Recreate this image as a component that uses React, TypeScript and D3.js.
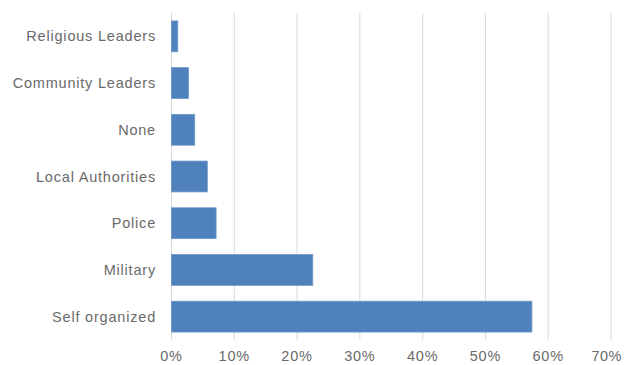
import React from "react";
import * as d3 from "d3";

const categories = ["Religious Leaders", "Community Leaders", "None", "Local Authorities", "Police", "Military", "Self organized"];
const values = [1.0, 2.7, 3.7, 5.7, 7.1, 22.5, 57.4];
const xTicks = [0, 10, 20, 30, 40, 50, 60, 70];

const W = 624, H = 365;
const margin = { left: 171.5, right: 13, top: 13, bottom: 25 };

export default function App() {
  const x = d3.scaleLinear().domain([0, 70]).range([margin.left, W - margin.right]);
  const y = d3.scaleBand().domain(categories).range([margin.top, H - margin.bottom]).paddingInner(0.34).paddingOuter(0.17);
  const font = "'Liberation Sans', Arial, sans-serif";
  return (
    <svg width={W} height={H} style={{ position: "absolute", left: 0, top: 0, background: "#fff" }}>
      {xTicks.map((t) => (
        <line key={t} x1={x(t)} x2={x(t)} y1={margin.top} y2={H - margin.bottom} stroke="#d9d9d9" strokeWidth={1} />
      ))}
      {categories.map((c, i) => (
        <rect key={c} x={x(0)} y={y(c)} width={x(values[i]) - x(0)} height={y.bandwidth()} fill="#4f81bd" stroke="#6d96c8" strokeWidth={0.8} />
      ))}
      {categories.map((c) => (
        <text key={c} x={156} y={(y(c) as number) + y.bandwidth() / 2} dy="0.35em" textAnchor="end" fontFamily={font} fontSize={14.5} fill="#6a6a6a" letterSpacing={0.8}>
          {c}
        </text>
      ))}
      {xTicks.map((t, i) => {
        const last = i === xTicks.length - 1;
        return (
          <text key={t} x={last ? W - 2 : x(t)} y={361} textAnchor={last ? "end" : "middle"} fontFamily={font} fontSize={14.5} fill="#6a6a6a" letterSpacing={last ? 0.5 : 0.8}>
            {t + "%"}
          </text>
        );
      })}
    </svg>
  );
}
